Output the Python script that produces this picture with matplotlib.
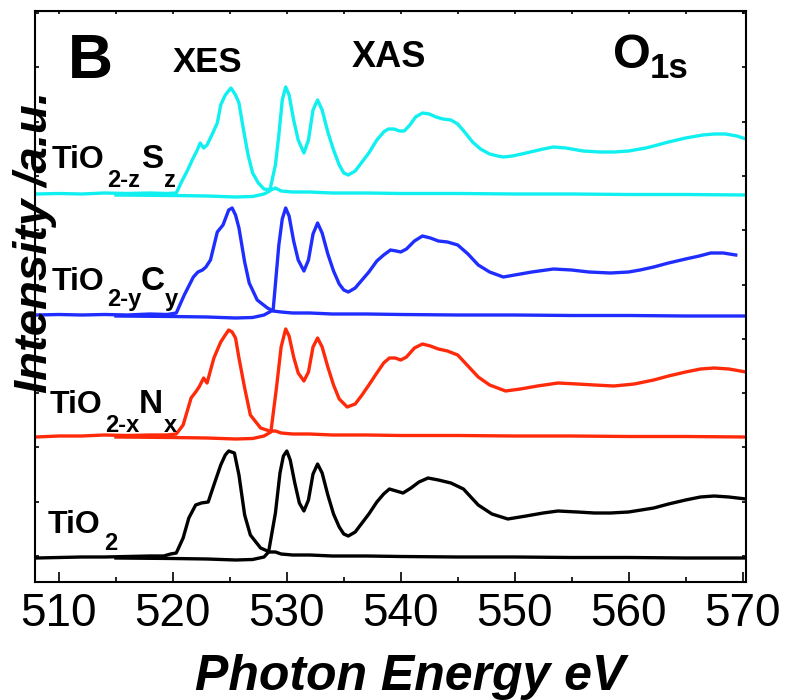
import numpy as np
import matplotlib
matplotlib.use("Agg")
import matplotlib.pyplot as plt
from matplotlib.ticker import MultipleLocator, FixedLocator

W, H = 796, 700
NARROW = ['Liberation Sans Narrow', 'Liberation Sans', 'DejaVu Sans']
WIDE = ['Liberation Sans', 'DejaVu Sans']

# ---- spectra: photon energy (eV) and intensity above each baseline (a.u.)
# TiO2
tio2_xes_e = [508, 510, 512, 514, 516, 518, 519.2, 519.8, 520.3, 520.9, 521.4, 522.0, 522.5, 523.1,
              523.6, 524.2, 524.6, 524.9, 525.4, 525.8, 526.3, 526.8, 527.7, 528.5, 529.0, 529.5,
              530.5, 532, 534, 537, 540, 545, 550, 555, 560, 565, 570.3]
tio2_xes_i = [0, 0.5, 1, 1, 1.5, 2, 2, 4, 5, 20, 40, 53, 55, 56,
              73, 93, 103, 107, 105, 83, 43, 23, 10, 6, 6, 4,
              3, 3, 2, 2, 1.5, 1, 1, 0.5, 0.5, 0, 0]
tio2_xas_e = [515, 520, 523, 525.5, 527, 528, 528.4, 529.0, 529.4, 529.7, 530.0, 530.3, 530.7, 531.1,
              531.5, 531.9, 532.3, 532.7, 533.1, 533.6, 534.1, 534.6, 535.0, 535.4, 536.0, 536.6,
              537.2, 537.9, 538.5, 539.0, 539.6, 540.2, 540.9, 541.6, 542.4, 543.3, 544.4, 545.5,
              546.8, 548.0, 549.4, 551.0, 552.5, 553.8, 555.5, 557.0, 558.4, 560.0, 562.2, 563.5,
              565.0, 566.3, 567.5, 568.8, 570.3]
tio2_xas_i = [0, -0.5, -1, -2, -1.5, 1, 6, 45, 85, 102, 107, 98, 75, 55,
              47, 58, 84, 94, 85, 63, 44, 31, 24, 22, 26, 35,
              44, 56, 64, 69, 67, 65, 70, 76, 80, 78, 75, 69,
              53, 44, 39, 42, 45, 47, 46, 45, 45, 46, 50, 54,
              58, 61, 62, 61, 59]

# TiO2-xNx
n_xes_e = [508, 510, 512, 514, 516, 518, 519.5, 520.3, 520.9, 521.6, 522.0, 522.3, 522.7, 523.0,
           523.6, 524.2, 524.6, 524.9, 525.2, 525.5, 525.8, 526.3, 526.8, 527.7, 528.5, 529.0,
           529.5, 530.5, 532, 534, 537, 540, 545, 550, 555, 560, 565, 570.3]
n_xes_i = [0, 1, 1, 2, 1.5, 2, 2, 3, 12, 39, 45, 50, 59, 54,
           79, 95, 102, 107, 105, 99, 79, 49, 22, 9, 6, 6,
           4, 3, 3, 2, 2, 1.5, 1.5, 1, 1, 0.5, 0.5, 0]
n_xas_e = [515, 520, 523, 525.5, 527, 528, 528.6, 529.1, 529.5, 529.9, 530.2, 530.6, 531.0, 531.5,
           531.9, 532.3, 532.7, 533.1, 533.6, 534.1, 534.6, 535.3, 536.0, 536.6, 537.2, 537.9,
           538.5, 539.0, 539.5, 540.0, 540.5, 541.2, 541.9, 542.6, 543.3, 544.1, 545.0, 545.9,
           546.8, 547.8, 549.2, 550.5, 552.0, 553.8, 555.5, 557.0, 558.7, 560.5, 562.2, 563.5,
           565.0, 566.3, 567.5, 568.8, 570.3]
n_xas_i = [0, -0.5, -1, -2, -1.5, 1, 5, 50, 90, 108, 101, 80, 64, 56,
           65, 90, 99, 90, 70, 52, 38, 30, 33, 42, 52, 64,
           74, 79, 79, 77, 80, 89, 93, 91, 88, 86, 82, 71,
           60, 52, 46, 48, 51, 54, 53, 52, 51, 53, 57, 61,
           65, 68, 69, 68, 65]

# TiO2-yCy
c_xes_e = [508, 510, 512, 514, 516, 518, 519.5, 520.3, 521.0, 521.8, 522.2, 522.6, 522.9, 523.3,
           523.6, 523.9, 524.4, 524.9, 525.2, 525.5, 525.8, 526.3, 526.7, 527.4, 528.3, 528.8,
           529.5, 530.5, 532, 534, 537, 540, 545, 550, 555, 560, 565, 570.3]
c_xes_i = [1, 1.5, 1, 1.5, 1, 2, 1.5, 3, 21, 39, 44, 46, 49, 56,
           70, 84, 91, 106, 108, 101, 88, 54, 33, 16, 8, 5,
           4, 3, 3, 2, 2, 1.5, 1, 1, 0.5, 0.5, 0, 0]
c_xas_e = [515, 520, 523, 525.5, 527, 528, 528.8, 529.3, 529.6, 529.9, 530.2, 530.6, 531.0, 531.5,
           531.9, 532.3, 532.7, 533.1, 533.6, 534.1, 534.6, 535.0, 535.4, 536.0, 536.6, 537.2,
           537.9, 538.5, 539.1, 539.6, 540.0, 540.5, 541.2, 541.9, 542.6, 543.3, 544.1, 545.0,
           545.9, 546.8, 547.8, 549.0, 550.0, 551.5, 553.4, 555.0, 556.5, 558.4, 560.0, 561.0,
           562.2, 563.5, 565.0, 566.2, 567.2, 568.3, 569.4]
c_xas_i = [0, -0.5, -1, -2, -1.5, 1, 6, 71, 97, 108, 100, 75, 56, 45,
           56, 82, 93, 83, 62, 45, 32, 26, 24, 28, 36, 44,
           55, 61, 66, 65, 64, 67, 75, 80, 78, 75, 74, 71,
           62, 51, 44, 39, 41, 44, 47, 46, 44, 43, 44, 46,
           49, 53, 57, 60, 63, 63, 61]

# TiO2-zSz
s_xes_e = [508, 510, 512, 514, 516, 518, 519.5, 520.3, 520.8, 521.3, 521.7, 522.1, 522.4, 522.7,
           523.0, 523.5, 523.9, 524.2, 524.6, 525.1, 525.5, 525.8, 526.2, 526.6, 527.0, 527.5,
           528.0, 528.6, 529.0, 529.5, 530.5, 532, 534, 537, 540, 545, 550, 555, 560, 565, 570.3]
s_xes_i = [1, 1.5, 1, 2, 1.5, 2, 1.5, 2, 14, 25, 35, 44, 52, 47,
           50, 62, 72, 90, 100, 107, 100, 92, 65, 40, 22, 12,
           6, 5, 7, 4, 3, 3, 2, 2, 1.5, 1.5, 1, 1, 0.5, 0.5, 0]
s_xas_e = [515, 520, 523, 525.5, 527, 528, 528.5, 529.0, 529.3, 529.6, 529.9, 530.2, 530.6, 531.0,
           531.5, 531.9, 532.3, 532.7, 533.1, 533.6, 534.1, 534.6, 535.0, 535.4, 536.0, 536.6,
           537.2, 537.9, 538.5, 538.9, 539.4, 539.9, 540.3, 540.8, 541.3, 541.9, 542.5, 543.1,
           543.7, 544.4, 545.0, 545.6, 546.3, 547.0, 547.8, 548.5, 549.0, 549.8, 551.0, 552.5,
           553.4, 554.5, 556.0, 557.5, 558.7, 560.0, 561.5, 562.2, 563.5, 565.0, 566.5, 567.5,
           568.5, 569.5, 570.3]
s_xas_i = [0, -0.5, -1, -2, -1.5, 1, 4, 30, 60, 95, 108, 100, 75, 55,
           42, 55, 85, 95, 85, 63, 45, 30, 22, 20, 24, 33,
           42, 55, 63, 66, 66, 64, 64, 70, 78, 82, 81, 78,
           76, 75, 71, 63, 53, 46, 41, 39, 38, 39, 42, 46,
           48, 47, 44, 43, 43, 44, 47, 49, 53, 57, 60, 61,
           61, 59, 56]

xticks = [510, 520, 530, 540, 550, 560, 570]

series = [
    (tio2_xes_e, tio2_xes_i, tio2_xas_e, tio2_xas_i, 'black'),
    (n_xes_e, n_xes_i, n_xas_e, n_xas_i, '#ff2a0a'),
    (c_xes_e, c_xes_i, c_xas_e, c_xas_i, '#1f2dff'),
    (s_xes_e, s_xes_i, s_xas_e, s_xas_i, '#10f0f0'),
]
offsets = [0, 121, 242, 363]

fig = plt.figure(figsize=(W / 100, H / 100), dpi=100)
ax = fig.add_axes([35 / W, 1 - 582 / H, 711 / W, 571 / H])

for (xe, xi, ae, ai, col), off in zip(series, offsets):
    ax.plot(xe, np.array(xi) + off, color=col, lw=2.4, solid_joinstyle='round')
    ax.plot(ae, np.array(ai) + off, color=col, lw=2.4, solid_joinstyle='round')

ax.set_xlim(507.9, 570.3)
ax.set_ylim(-24, 547)
ax.set_xticks(xticks)
ax.xaxis.set_minor_locator(MultipleLocator(5))
ax.yaxis.set_major_locator(FixedLocator(np.arange(2, 548, 54.3)))
ax.set_yticklabels([])
ax.tick_params(axis='x', which='major', direction='in', length=7, width=1.2, pad=7)
ax.tick_params(axis='x', which='minor', direction='in', length=3.5, width=1.2)
ax.tick_params(axis='y', which='both', direction='in', length=3, width=1.2,
               left=True, right=True)
for lab in ax.get_xticklabels():
    lab.set_family(NARROW)
    lab.set_fontsize(33)
for sp in ax.spines.values():
    sp.set_linewidth(1.5)

top = ax.secondary_xaxis('top')
top.set_xticks(np.arange(510, 571, 5))
top.tick_params(direction='in', length=2, width=1.2, labeltop=False)


def put(x, y, s, size, fam=NARROW, **kw):
    return fig.text(x / W, 1 - y / H, s, fontsize=size, family=fam,
                    fontweight='bold', va='baseline', ha='left', **kw)


# sample labels with subscripts
put(52, 168, 'TiO', 23); put(107, 187, '2-z', 17); put(141, 168, 'S', 24); put(164, 187, 'z', 17)
put(52, 290, 'TiO', 23); put(107, 306, '2-y', 17); put(141, 290, 'C', 24); put(165, 306, 'y', 17)
put(50, 413, 'TiO', 23); put(105, 432, '2-x', 17); put(139, 413, 'N', 24); put(164, 432, 'x', 17)
put(48, 533, 'TiO', 23); put(104, 550, '2', 17)

put(68, 78, 'B', 45, fam=WIDE)
put(173, 72, 'XES', 25, fam=WIDE)
put(352, 67, 'XAS', 26, fam=WIDE)
put(613, 68, 'O', 35, fam=WIDE)
put(650, 78, '1s', 25, fam=WIDE)

fig.text(410 / W, 1 - 690 / H, 'Photon Energy eV', fontsize=36, family=NARROW,
         fontweight='bold', fontstyle='italic', ha='center', va='baseline')
fig.text(35 / W, 1 - 242 / H, 'Intensity /a.u.', fontsize=34, family=NARROW,
         fontweight='bold', fontstyle='italic', ha='center', va='center', rotation=90)

fig.savefig('out.png', dpi=100)
